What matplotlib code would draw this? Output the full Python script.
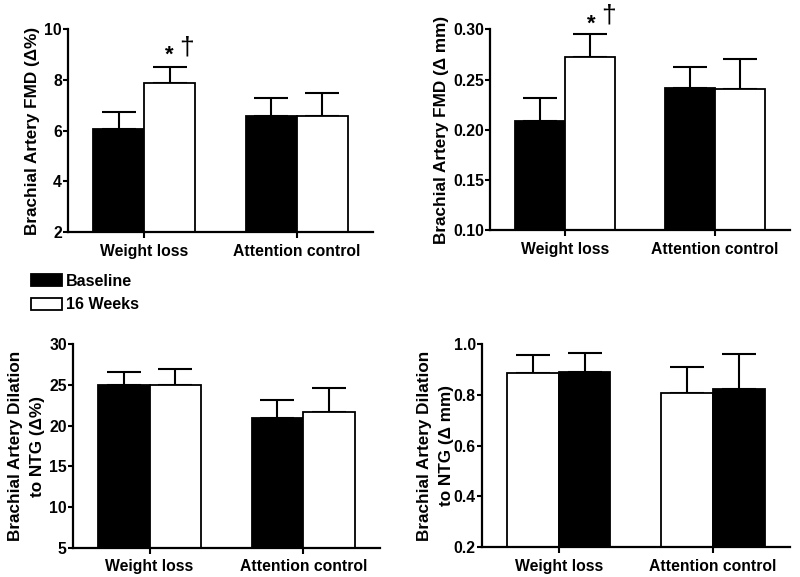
import matplotlib.pyplot as plt
from matplotlib.patches import Patch

plt.rcParams["font.family"] = ["Liberation Sans", "DejaVu Sans"]
plt.rcParams["font.weight"] = "bold"

# ---------------------------------------------------------------------------
# Data
# ---------------------------------------------------------------------------

GROUPS = ["Weight loss", "Attention control"]

fmd_pct_base = [6.05, 6.60]
fmd_pct_base_err = [0.70, 0.68]
fmd_pct_16wk = [7.88, 6.57]
fmd_pct_16wk_err = [0.65, 0.90]

fmd_mm_base = [0.209, 0.242]
fmd_mm_base_err = [0.023, 0.021]
fmd_mm_16wk = [0.273, 0.241]
fmd_mm_16wk_err = [0.022, 0.030]

ntg_pct_base = [24.95, 20.97]
ntg_pct_base_err = [1.72, 2.23]
ntg_pct_16wk = [25.00, 21.70]
ntg_pct_16wk_err = [2.00, 2.96]

# bottom-right panel: first bar is white, second black (as in the original)
ntg_mm_first = [0.888, 0.810]
ntg_mm_first_err = [0.070, 0.099]
ntg_mm_second = [0.893, 0.823]
ntg_mm_second_err = [0.074, 0.140]

LEGEND_LABELS = ["Baseline", "16 Weeks"]

# ---------------------------------------------------------------------------
# Plotting
# ---------------------------------------------------------------------------

CENTERS = [1, 3]
WIDTH = 0.67


def draw_panel(ax, first, first_err, second, second_err, colors, ylim, yticks,
               ytickfmt, ylabel, label_x):
    x1 = [c - WIDTH / 2 for c in CENTERS]
    x2 = [c + WIDTH / 2 for c in CENTERS]
    for xs, vals, errs, col in [(x1, first, first_err, colors[0]),
                                (x2, second, second_err, colors[1])]:
        ax.bar(xs, vals, width=WIDTH, color=col, edgecolor="black",
               linewidth=1.3, zorder=2)
        ax.errorbar(xs, vals, yerr=[[0] * len(vals), errs], fmt="none",
                    ecolor="black", elinewidth=1.5, capsize=12, capthick=1.5,
                    zorder=1)
    ax.set_xlim(0, 4)
    ax.set_ylim(*ylim)
    ax.set_yticks(yticks)
    ax.set_yticklabels([ytickfmt.format(t) for t in yticks])
    ax.set_xticks(CENTERS)
    ax.set_xticklabels(GROUPS)
    for s in ["top", "right"]:
        ax.spines[s].set_visible(False)
    for s in ["left", "bottom"]:
        ax.spines[s].set_linewidth(1.6)
    ax.tick_params(axis="both", width=1.5, labelsize=11.3)
    ax.tick_params(axis="x", length=4, pad=4.5)
    ax.tick_params(axis="y", length=3.5, pad=0.8)
    ax.set_ylabel(ylabel, fontsize=12.3, fontweight="bold", va="center",
                  linespacing=1.6)
    ax.yaxis.set_label_coords(label_x, 0.5)


fig = plt.figure(figsize=(8, 5.77), dpi=100)

ax_tl = fig.add_axes([0.085, 0.598, 0.381, 0.351])
ax_tr = fig.add_axes([0.6125, 0.601, 0.375, 0.348])
ax_bl = fig.add_axes([0.091, 0.051, 0.384, 0.352])
ax_br = fig.add_axes([0.602, 0.0525, 0.3855, 0.3505])

draw_panel(ax_tl, fmd_pct_base, fmd_pct_base_err, fmd_pct_16wk, fmd_pct_16wk_err,
           ["black", "white"], (2, 10), [2, 4, 6, 8, 10], "{:g}",
           "Brachial Artery FMD (Δ%)", -0.115)
draw_panel(ax_tr, fmd_mm_base, fmd_mm_base_err, fmd_mm_16wk, fmd_mm_16wk_err,
           ["black", "white"], (0.10, 0.30), [0.10, 0.15, 0.20, 0.25, 0.30],
           "{:.2f}", "Brachial Artery FMD (Δ mm)", -0.162)
draw_panel(ax_bl, ntg_pct_base, ntg_pct_base_err, ntg_pct_16wk, ntg_pct_16wk_err,
           ["black", "white"], (5, 30), [5, 10, 15, 20, 25, 30], "{:g}",
           "Brachial Artery Dilation\nto NTG (Δ%)", -0.152)
draw_panel(ax_br, ntg_mm_first, ntg_mm_first_err, ntg_mm_second, ntg_mm_second_err,
           ["white", "black"], (0.2, 1.0), [0.2, 0.4, 0.6, 0.8, 1.0], "{:.1f}",
           "Brachial Artery Dilation\nto NTG (Δ mm)", -0.15)

# significance markers above the weight-loss 16-week bars
ax_tl.text(1.325, 9.0, "*", fontsize=16, fontweight="bold", ha="center", va="center")
ax_tl.text(1.56, 9.3, "†", fontsize=19, fontweight="normal", ha="center", va="center")
ax_tr.text(1.345, 0.3055, "*", fontsize=16, fontweight="bold", ha="center", va="center")
ax_tr.text(1.587, 0.314, "†", fontsize=19, fontweight="normal", ha="center", va="center")

handles = [Patch(facecolor="black", edgecolor="black", linewidth=1.3),
           Patch(facecolor="white", edgecolor="black", linewidth=1.3)]
fig.legend(handles, LEGEND_LABELS, loc="upper left", bbox_to_anchor=(0.031, 0.537),
           frameon=False, prop={"size": 11.5, "weight": "bold"},
           handlelength=1.95, handleheight=0.75, handletextpad=0.25, labelspacing=0.55,
           borderaxespad=0)

fig.savefig("out.png", dpi=100)
